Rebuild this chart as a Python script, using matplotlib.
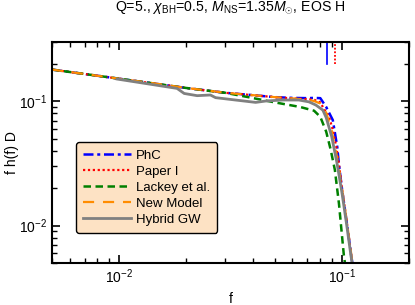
import numpy as np
import matplotlib
matplotlib.use("Agg")
import matplotlib.pyplot as plt
from matplotlib.ticker import NullFormatter

plt.rcParams['font.family'] = ['Liberation Sans', 'DejaVu Sans']
plt.rcParams['mathtext.fontset'] = 'custom'
plt.rcParams['mathtext.rm'] = 'Liberation Sans'
plt.rcParams['mathtext.it'] = 'Liberation Sans:italic'
plt.rcParams['mathtext.bf'] = 'Liberation Sans:bold'

# ---- data ----
f_phc = [0.005, 0.01, 0.02, 0.03, 0.04, 0.05, 0.06, 0.07, 0.075, 0.08, 0.085,
         0.091, 0.0953, 0.097, 0.1, 0.105, 0.11, 0.113]
h_phc = [0.180, 0.152, 0.128, 0.117, 0.112, 0.108, 0.1065, 0.106, 0.1065, 0.106, 0.090,
         0.0707, 0.043, 0.031, 0.020, 0.0108, 0.0058, 0.0042]

f_paper1 = [0.005, 0.01, 0.02, 0.03, 0.04, 0.05, 0.06, 0.07, 0.075, 0.08, 0.083,
            0.0876, 0.091, 0.0944, 0.097, 0.1, 0.105, 0.11, 0.113]
h_paper1 = [0.180, 0.152, 0.128, 0.117, 0.112, 0.108, 0.1055, 0.104, 0.103, 0.098, 0.087,
            0.075, 0.059, 0.043, 0.031, 0.020, 0.011, 0.0058, 0.0043]

f_lackey = [0.005, 0.01, 0.02, 0.03, 0.038, 0.05, 0.065, 0.075, 0.08, 0.085, 0.089,
            0.093, 0.097, 0.102, 0.105]
h_lackey = [0.180, 0.152, 0.128, 0.117, 0.108, 0.098, 0.090, 0.084, 0.075, 0.057, 0.041,
            0.028, 0.015, 0.0058, 0.0040]

f_new = [0.005, 0.0075, 0.01, 0.015, 0.02, 0.027, 0.03, 0.04, 0.05, 0.06, 0.07, 0.075,
         0.08, 0.085, 0.09, 0.095, 0.1, 0.105, 0.11, 0.115]
h_new = [0.180, 0.163, 0.152, 0.138, 0.128, 0.120, 0.117, 0.112, 0.108, 0.1055, 0.103, 0.1005,
         0.096, 0.081, 0.058, 0.036, 0.020, 0.011, 0.0060, 0.0033]

f_hyb = [0.0098, 0.0182, 0.0196, 0.0224, 0.0257, 0.0271, 0.0333, 0.041, 0.0455, 0.0542,
         0.0641, 0.0711, 0.0764, 0.0821, 0.085, 0.09, 0.095, 0.1, 0.105, 0.11, 0.113]
h_hyb = [0.151, 0.127, 0.1156, 0.111, 0.1124, 0.107, 0.1024, 0.098, 0.1005, 0.1024,
         0.1024, 0.099, 0.0933, 0.085, 0.074, 0.052, 0.032, 0.0185, 0.0102, 0.0056, 0.0042]

# cutoff frequencies marked at the top
f_cut_phc = 0.0857
f_cut_paper1 = 0.093

fig = plt.figure(figsize=(4.15, 3.05), dpi=100)
ax = fig.add_axes([0.1253, 0.1377, 0.8602, 0.7246])

ax.plot(f_phc, h_phc, color='blue', lw=1.8, dashes=(4, 1.5, 1.2, 1.5), label='PhC')
ax.plot(f_paper1, h_paper1, color='red', lw=1.6, dashes=(1, 1.2), label='Paper I')
ax.plot(f_lackey, h_lackey, color='#008000', lw=1.8, dashes=(3, 1.8), label='Lackey et al.')
ax.plot(f_new, h_new, color='#ff8c00', lw=1.6, dashes=(5, 4), label='New Model')
ax.plot(f_hyb, h_hyb, color='gray', lw=2.0, label='Hybrid GW')

ax.axvline(f_cut_phc, ymin=0.9, ymax=1.0, color='blue', lw=1.2)
ax.axvline(f_cut_paper1, ymin=0.9, ymax=1.0, color='red', lw=1.3, dashes=(1, 1))

ax.set_xscale('log')
ax.set_yscale('log')
ax.set_xlim(0.005, 0.2)
ax.set_ylim(0.005, 0.3)
ax.xaxis.set_minor_formatter(NullFormatter())
ax.yaxis.set_minor_formatter(NullFormatter())

ax.tick_params(which='both', direction='in', top=True, right=True, labelsize=10)
ax.tick_params(which='major', length=6, width=1.2)
ax.tick_params(which='minor', length=3.5, width=1.0)
for s in ax.spines.values():
    s.set_linewidth(1.5)

ax.set_xlabel('f', fontsize=10)
ax.set_ylabel('f h(f) D', fontsize=10)
ax.yaxis.set_label_coords(-0.092, 0.5)
ax.set_title(r'Q=5., $\chi_{\rm BH}$=0.5, $M_{\rm NS}$=1.35$M_{\odot}$, EOS H', fontsize=10.2, pad=22)

leg = ax.legend(loc='lower left', bbox_to_anchor=(0.067, 0.136), borderaxespad=0,
                fontsize=9.5, fancybox=True, handlelength=3.6, labelspacing=0.28,
                handletextpad=0.4, borderpad=0.55)
leg.get_frame().set_facecolor('#fde2c4')
leg.get_frame().set_edgecolor('black')
leg.get_frame().set_alpha(1)
leg.get_frame().set_linewidth(1.0)

fig.savefig('out.png', dpi=100)
